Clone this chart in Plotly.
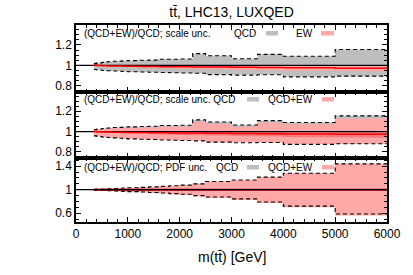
import plotly.graph_objects as go

# ---------------- data ----------------
edges = [345, 400, 500, 600, 700, 800, 900, 1000, 1200, 1400, 1600, 1800, 2000,
         2250, 2500, 3000, 3500, 4000, 5000, 6000]

# panel 1 / 2 : QCD scale uncertainty band (relative to QCD)
qcd_scale_up = [1.02, 1.025, 1.03, 1.035, 1.04, 1.042, 1.045, 1.047, 1.05, 1.052,
                1.06, 1.06, 1.062, 1.115, 1.095, 1.065, 1.108, 1.09, 1.155]
qcd_scale_lo = [0.96, 0.955, 0.95, 0.948, 0.945, 0.943, 0.94, 0.938, 0.935, 0.933,
                0.93, 0.928, 0.926, 0.924, 0.91, 0.905, 0.908, 0.888, 0.895]

# EW correction (QCD+EW)/QCD central and band
ew_central = [1.003, 0.999, 0.997, 0.995, 0.994, 0.993, 0.992, 0.991, 0.99, 0.989,
              0.988, 0.987, 0.986, 0.985, 0.984, 0.982, 0.98, 0.977, 0.973]
ew_up = [1.005, 1.001, 1.0, 0.999, 0.998, 0.998, 0.998, 0.998, 0.998, 0.997,
         0.997, 0.997, 0.997, 0.996, 0.996, 0.995, 0.995, 0.993, 0.992]
ew_lo = [1.0, 0.996, 0.993, 0.99, 0.988, 0.986, 0.984, 0.982, 0.979, 0.976,
         0.973, 0.97, 0.967, 0.964, 0.96, 0.956, 0.952, 0.947, 0.94]

# panel 2 : QCD+EW scale band
qcdew_scale_up = [1.02, 1.023, 1.026, 1.03, 1.034, 1.035, 1.037, 1.038, 1.04, 1.041,
                  1.048, 1.047, 1.048, 1.1, 1.078, 1.047, 1.088, 1.075, 1.13]
qcdew_scale_lo = [0.958, 0.952, 0.946, 0.942, 0.938, 0.935, 0.931, 0.928, 0.925, 0.922,
                  0.918, 0.915, 0.912, 0.909, 0.896, 0.89, 0.892, 0.874, 0.88]

# panel 3 : PDF uncertainty
qcd_pdf_up = [1.008, 1.01, 1.013, 1.016, 1.02, 1.024, 1.028, 1.033, 1.04, 1.048,
              1.057, 1.067, 1.078, 1.1, 1.14, 1.165, 1.215, 1.28, 1.44]
qcd_pdf_lo = [0.992, 0.99, 0.987, 0.984, 0.98, 0.976, 0.972, 0.967, 0.96, 0.952,
              0.943, 0.933, 0.922, 0.9, 0.875, 0.843, 0.79, 0.72, 0.585]
qcdew_pdf_up = [1.008, 1.01, 1.013, 1.016, 1.02, 1.024, 1.028, 1.033, 1.04, 1.048,
                1.057, 1.067, 1.078, 1.1, 1.14, 1.165, 1.215, 1.28, 1.44]
qcdew_pdf_lo = [0.991, 0.988, 0.984, 0.98, 0.975, 0.97, 0.965, 0.959, 0.951, 0.942,
                0.932, 0.921, 0.909, 0.886, 0.86, 0.826, 0.773, 0.7, 0.56]

x_range = [0, 6000]
x_ticks = [0, 1000, 2000, 3000, 4000, 5000, 6000]

GRAY = "#bebebe"
PINK = "#ffa8a8"
RED = "#ff0000"
FONT = "Liberation Sans"


def band_poly(e, up, lo):
    xs, ys = [], []
    for i in range(len(up)):
        xs += [e[i], e[i + 1]]
        ys += [up[i], up[i]]
    for i in reversed(range(len(lo))):
        xs += [e[i + 1], e[i]]
        ys += [lo[i], lo[i]]
    xs.append(xs[0]); ys.append(ys[0])
    return xs, ys


def step(e, v):
    return list(e), list(v) + [v[-1]]


fig = go.Figure()


def add_band(up, lo, color, ax):
    xs, ys = band_poly(edges, up, lo)
    fig.add_trace(go.Scatter(x=xs, y=ys, fill="toself", fillcolor=color,
                             line=dict(width=0), mode="lines", hoverinfo="skip",
                             showlegend=False, xaxis="x" + ax, yaxis="y" + ax))


def add_step(v, ax, color="black", width=1.1, dash=None):
    xs, ys = step(edges, v)
    fig.add_trace(go.Scatter(x=xs, y=ys, mode="lines",
                             line=dict(color=color, width=width, dash=dash, shape="hv"),
                             hoverinfo="skip", showlegend=False,
                             xaxis="x" + ax, yaxis="y" + ax))


def add_unity(ax):
    fig.add_trace(go.Scatter(x=x_range, y=[1, 1], mode="lines",
                             line=dict(color="black", width=1.2), hoverinfo="skip",
                             showlegend=False, xaxis="x" + ax, yaxis="y" + ax))


DASH = "4px,3px"

# ---- panel 1 ----
add_band(qcd_scale_up, qcd_scale_lo, GRAY, "")
add_band(ew_up, ew_lo, PINK, "")
add_step(qcd_scale_up, "", dash=DASH)
add_step(qcd_scale_lo, "", dash=DASH)
add_unity("")
add_step(ew_central, "", color=RED, width=1.5)

# ---- panel 2 ----
add_band(qcd_scale_up, qcd_scale_lo, GRAY, "2")
add_band(qcdew_scale_up, qcdew_scale_lo, PINK, "2")
add_band(ew_up, ew_lo, "rgba(235,40,40,0.35)", "2")
add_step(qcd_scale_up, "2", dash=DASH)
add_step(qcdew_scale_lo, "2", dash=DASH)
add_unity("2")
add_step(ew_central, "2", color=RED, width=1.5)

# ---- panel 3 ----
add_band(qcd_pdf_up, qcd_pdf_lo, GRAY, "3")
add_band(qcdew_pdf_up, qcdew_pdf_lo, PINK, "3")
add_step(qcd_pdf_up, "3", dash=DASH)
add_step(qcd_pdf_lo, "3", dash=DASH)
add_step([1.0] * len(ew_central), "3", color="#c00000", width=2)
add_unity("3")

L, R, T, B = 76, 26, 25, 53
W, H = 413, 275
ph = H - T - B
d1 = (222 - 92) / ph
d2 = (222 - 158) / ph

xcommon = dict(range=x_range, tickvals=x_ticks, ticks="inside", ticklen=5, tickwidth=1,
               tickcolor="black", showline=True, linecolor="black", linewidth=1.5,
               mirror="ticks", showgrid=False, zeroline=False,
               minor=dict(dtick=200, ticks="inside", ticklen=3, tickcolor="black", tickwidth=1),
               tickfont=dict(family=FONT, size=12, color="black"))
ycommon = dict(ticks="inside", ticklen=5, tickwidth=1, tickcolor="black", showline=True,
               linecolor="black", linewidth=1.5, mirror="ticks", showgrid=False,
               zeroline=False, tickfont=dict(family=FONT, size=12, color="black"))

fig.update_layout(
    width=W, height=H, margin=dict(l=L, r=R, t=T, b=B),
    paper_bgcolor="white", plot_bgcolor="white",
    font=dict(family=FONT, color="black"),
    title=dict(text="tt\u0304, LHC13, LUXQED", x=(L + 311 / 2) / W, xanchor="center",
               y=1 - 12 / H, yanchor="middle", font=dict(family=FONT, size=14)),
    xaxis=dict(**xcommon, anchor="y", showticklabels=False),
    xaxis2=dict(**xcommon, anchor="y2", showticklabels=False, matches="x"),
    xaxis3=dict(**xcommon, anchor="y3", matches="x"),
    yaxis=dict(**ycommon, domain=[d1, 1], range=[0.74, 1.395], tickvals=[0.8, 1, 1.2],
               ticktext=["0.8", "1", "1.2"],
               minor=dict(dtick=0.05, ticks="inside", ticklen=3, tickcolor="black")),
    yaxis2=dict(**ycommon, domain=[d2, d1], range=[0.74, 1.39], tickvals=[0.8, 1, 1.2],
                ticktext=["0.8", "1", "1.2"],
                minor=dict(dtick=0.05, ticks="inside", ticklen=3, tickcolor="black")),
    yaxis3=dict(**ycommon, domain=[0, d2], range=[0.45, 1.54], tickvals=[0.6, 1, 1.4],
                ticktext=["0.6", "1", "1.4"],
                minor=dict(dtick=0.1, ticks="inside", ticklen=3, tickcolor="black")),
)

ann = []
shapes = []
TS = 10


def txt(text, x, y, xr, yr, anchor="left"):
    ann.append(dict(text=text, x=x, y=y, xref=xr, yref=yr, xanchor=anchor,
                    yanchor="middle", showarrow=False,
                    font=dict(family=FONT, size=TS, color="black")))


def box(x0, x1, y0, y1, xr, yr, color):
    shapes.append(dict(type="rect", x0=x0, x1=x1, y0=y0, y1=y1, xref=xr, yref=yr,
                       fillcolor=color, line=dict(width=0)))


def dx(px):
    return (px - L) / 311.0


# panel 1
txt("(QCD+EW)/QCD; scale unc.", dx(82), (92 - 33.3) / 67, "x domain", "y domain")
txt("QCD", dx(258), (92 - 33.3) / 67, "x domain", "y domain", "right")
box(dx(266), dx(278), (92 - 35.5) / 67, (92 - 31) / 67, "x domain", "y domain", GRAY)
txt("EW", dx(315), (92 - 33.3) / 67, "x domain", "y domain", "right")
box(dx(321), dx(334), (92 - 35.5) / 67, (92 - 31) / 67, "x domain", "y domain", PINK)

# panel 2
txt("(QCD+EW)/QCD; scale unc. QCD", dx(82), (158 - 99.3) / 66, "x2 domain", "y2 domain")
box(dx(247), dx(259), (158 - 101.5) / 66, (158 - 97) / 66, "x2 domain", "y2 domain", GRAY)
txt("QCD+EW", dx(315), (158 - 99.3) / 66, "x2 domain", "y2 domain", "right")
box(dx(322), dx(334), (158 - 101.5) / 66, (158 - 97) / 66, "x2 domain", "y2 domain", PINK)

# panel 3
txt("(QCD+EW)/QCD; PDF unc.", dx(82), (222 - 167.3) / 64, "x3 domain", "y3 domain")
txt("QCD", dx(240), (222 - 167.3) / 64, "x3 domain", "y3 domain", "right")
box(dx(247), dx(259), (222 - 169.5) / 64, (222 - 165) / 64, "x3 domain", "y3 domain", GRAY)
txt("QCD+EW", dx(315), (222 - 167.3) / 64, "x3 domain", "y3 domain", "right")
box(dx(322), dx(334), (222 - 169.5) / 64, (222 - 165) / 64, "x3 domain", "y3 domain", PINK)

# x axis title
ann.append(dict(text="m(tt\u0304) [GeV]", x=0.5, y=(222 - 256.5) / ph, xref="paper",
                yref="paper", xanchor="center", yanchor="middle", showarrow=False,
                font=dict(family=FONT, size=14, color="black")))

fig.update_layout(annotations=ann, shapes=shapes)
fig.write_html("out.html")
